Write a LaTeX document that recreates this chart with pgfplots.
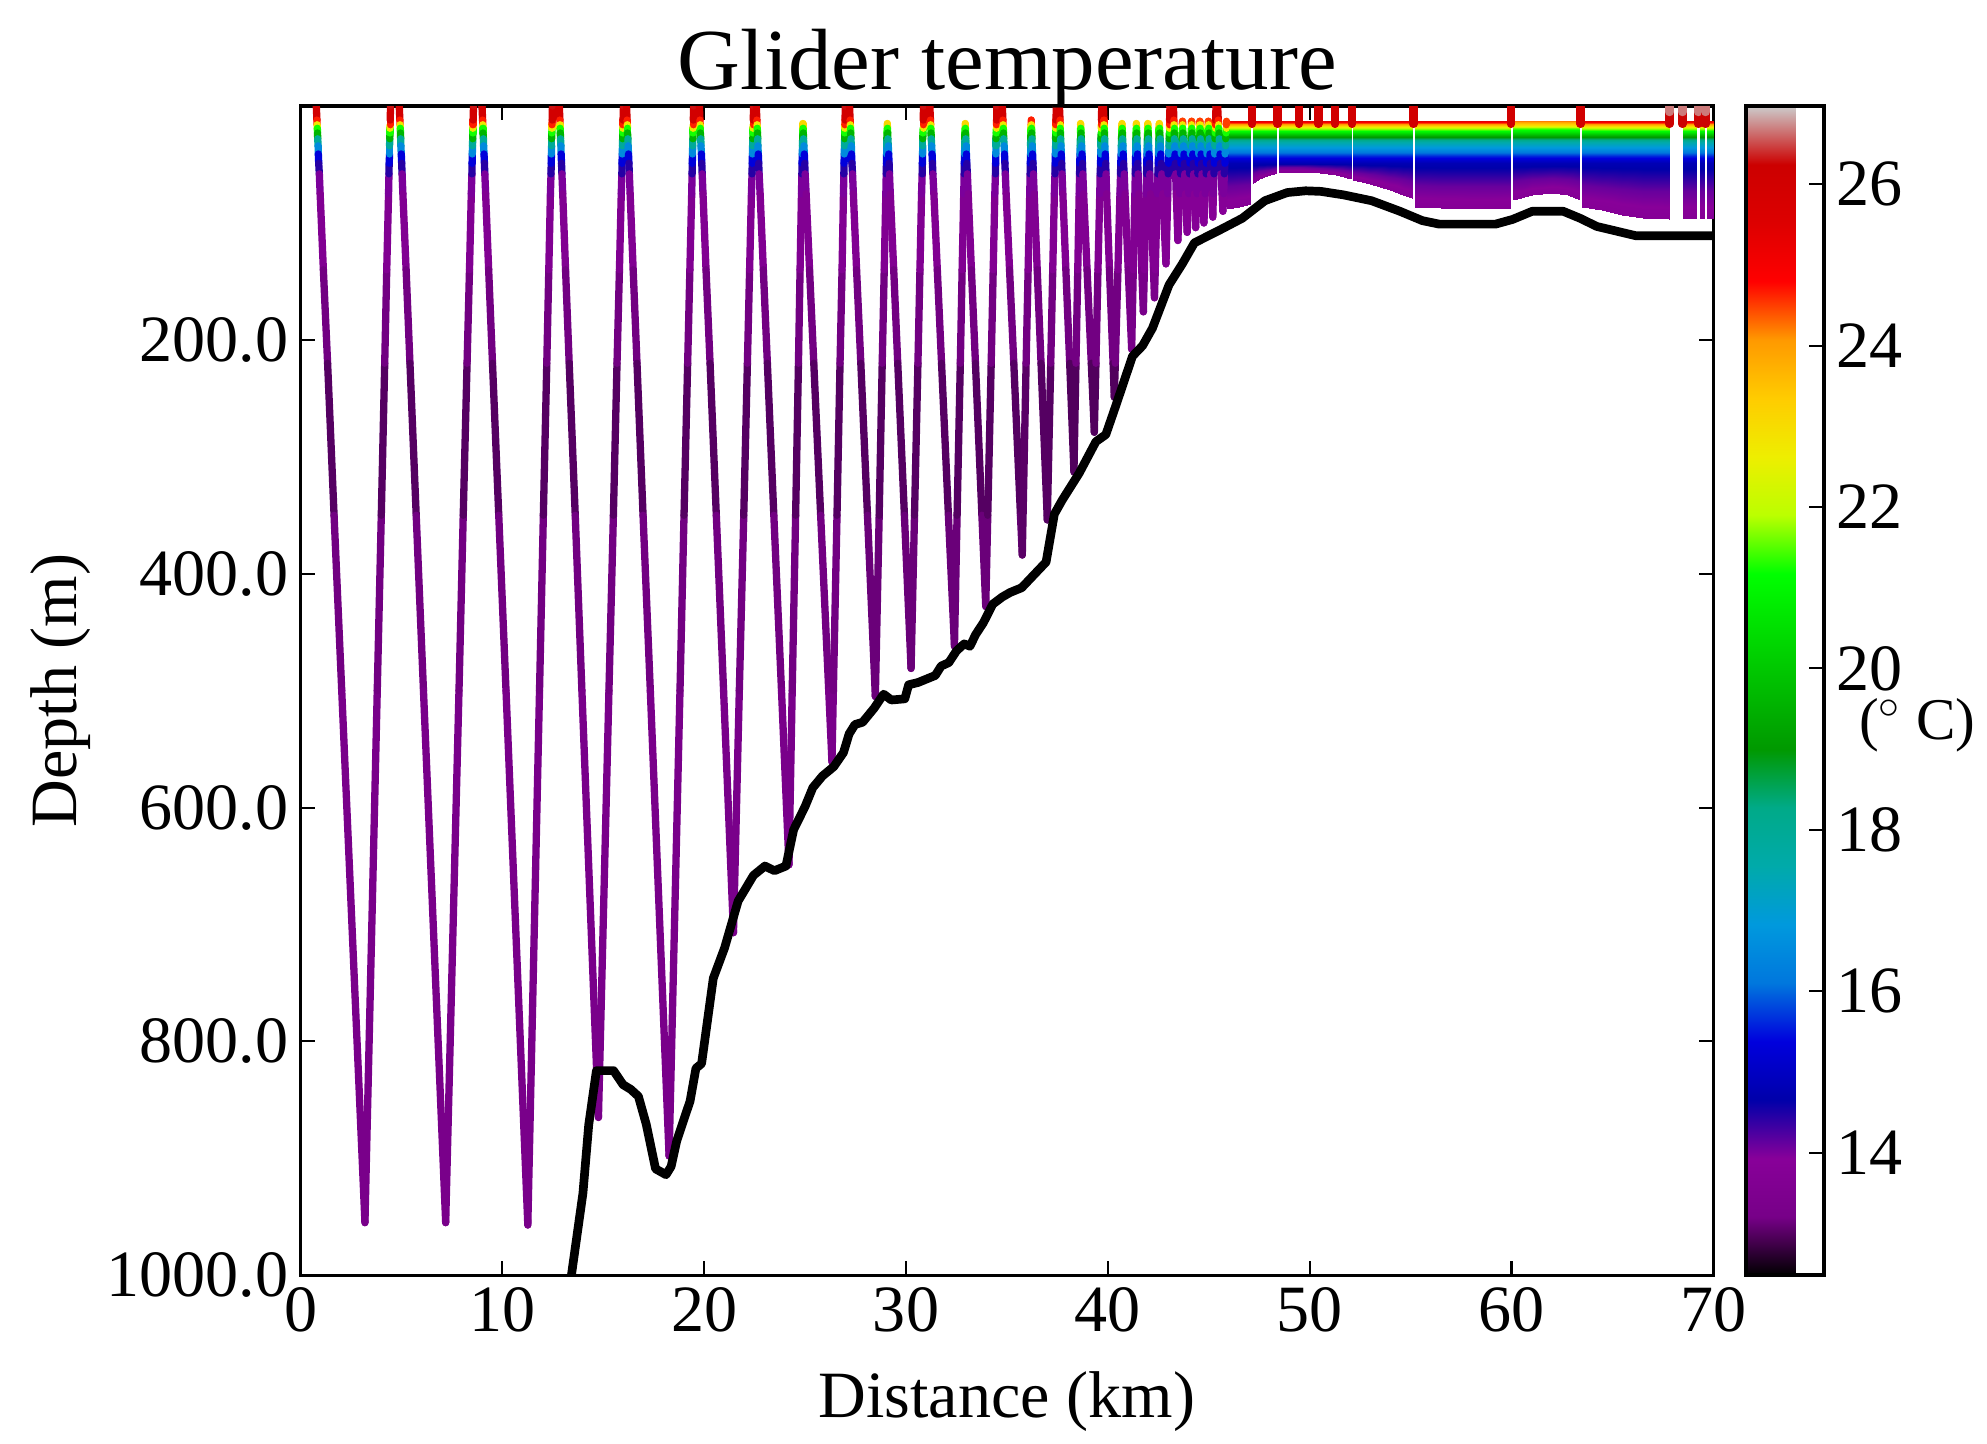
\documentclass[border=0pt]{standalone}
\usepackage{pgfplots}
\pgfplotsset{compat=1.18}
\usepackage{fontspec}
\setmainfont{Liberation Serif}

% nipy_spectral
\pgfplotsset{
  colormap={nipy}{rgb=(0,0,0) rgb=(0.4667,0,0.5333) rgb=(0.5333,0,0.6) rgb=(0,0,0.6667)
    rgb=(0,0,0.8667) rgb=(0,0.4667,0.8667) rgb=(0,0.6,0.8667) rgb=(0,0.6667,0.6667)
    rgb=(0,0.6667,0.5333) rgb=(0,0.6,0) rgb=(0,0.7333,0) rgb=(0,0.8667,0) rgb=(0,1,0)
    rgb=(0.7333,1,0) rgb=(0.9333,0.9333,0) rgb=(1,0.8,0) rgb=(1,0.6,0) rgb=(1,0,0)
    rgb=(0.8667,0,0) rgb=(0.8,0,0) rgb=(0.8,0.8,0.8)},
  /pgf/number format/assume math mode=true,
}

\begin{document}
\begin{tikzpicture}
\begin{axis}[
    name=main,
    width=14.27cm, height=11.81cm, scale only axis,
    xmin=0, xmax=70, ymin=0, ymax=1000, y dir=reverse,
    xtick={0,10,...,70}, ytick={200,400,...,1000},
    tick align=inside, tick pos=both,
    major tick length=0.145cm,
    every tick/.style={black, line width=0.6pt},
    axis line style={line width=0.9pt},
    tick label style={font=\fontsize{19}{22}\selectfont},
    scaled y ticks=false,
    yticklabel style={/pgf/number format/fixed, /pgf/number format/fixed zerofill,
      /pgf/number format/precision=1, /pgf/number format/1000 sep={}},
    title={Glider temperature},
    every axis title/.style={at={(axis description cs:0.5,1.014)}, anchor=base,
      font=\fontsize{25}{28}\selectfont},
    xlabel={Distance (km)},
    every axis x label/.style={at={(axis description cs:0.5,-0.122)}, anchor=base,
      font=\fontsize{19}{22}\selectfont},
    ylabel={Depth (m)},
    every axis y label/.style={at={(axis description cs:-0.170,0.5)}, rotate=90,
      anchor=center, font=\fontsize{19}{22}\selectfont},
    colormap name=nipy,
    point meta min=12.48, point meta max=26.97,
    colorbar,
    colorbar style={
      width=0.79cm,
      at={(parent axis.north east)}, anchor=north west, xshift=0.03cm,
      ytick={14,16,...,26},
      tick align=inside, ytick pos=right, yticklabel pos=right,
      major tick length=0.15cm,
      every tick/.style={black, line width=0.6pt},
      axis line style={line width=1pt},
      yticklabel style={font=\fontsize{19}{22}\selectfont},
      ylabel={($^{\circ}$ C)},
      every axis y label/.style={at={(axis description cs:2.19,0.47)}, anchor=center,
        font=\fontsize{17}{20}\selectfont},
    },
]

% dense yo-yo band east of 46 km, one block per run between gaps
\addplot[surf, shader=interp, mesh/cols=3, point meta=explicit] coordinates {
(45.90,13)[25.4] (46.50,13)[25.4] (47.08,13)[25.4]
(45.90,16)[23.6] (46.50,16)[23.6] (47.08,16)[23.6]
(45.90,19)[22.0] (46.50,19)[22.0] (47.08,19)[22.0]
(45.90,22)[20.8] (46.50,22)[20.8] (47.08,22)[20.8]
(45.90,26)[19.3] (46.50,26)[19.3] (47.08,26)[19.3]
(45.90,31)[17.6] (46.50,31)[17.6] (47.08,31)[17.6]
(45.90,37)[16.6] (46.50,37)[16.6] (47.08,37)[16.6]
(45.90,43)[15.6] (46.50,43)[15.6] (47.08,43)[15.6]
(45.90,49)[14.8] (46.50,49)[14.8] (47.08,49)[14.8]
(45.90,68.5)[14.1] (46.50,67.5)[14.1] (47.08,66.5)[14.1]
(45.90,88)[13.8] (46.50,86)[13.8] (47.08,84)[13.8]
};
\addplot[surf, shader=interp, mesh/cols=4, point meta=explicit] coordinates {
(47.20,13)[25.4] (47.50,13)[25.4] (47.90,13)[25.4] (48.37,13)[25.4]
(47.20,16)[23.6] (47.50,16)[23.6] (47.90,16)[23.6] (48.37,16)[23.6]
(47.20,19)[22.0] (47.50,19)[22.0] (47.90,19)[22.0] (48.37,19)[22.0]
(47.20,22)[20.8] (47.50,22)[20.8] (47.90,22)[20.8] (48.37,22)[20.8]
(47.20,26)[19.3] (47.50,26)[19.3] (47.90,26)[19.3] (48.37,26)[19.3]
(47.20,31)[17.6] (47.50,31)[17.6] (47.90,31)[17.6] (48.37,31)[17.6]
(47.20,37)[16.6] (47.50,37)[16.6] (47.90,37)[16.6] (48.37,37)[16.6]
(47.20,43)[15.6] (47.50,43)[15.6] (47.90,43)[15.6] (48.37,43)[15.6]
(47.20,49)[14.8] (47.50,49)[14.8] (47.90,49)[14.8] (48.37,49)[14.8]
(47.20,57.5)[14.1] (47.50,55.5)[14.1] (47.90,54.5)[14.1] (48.37,53)[14.1]
(47.20,66)[13.8] (47.50,62)[13.8] (47.90,60)[13.8] (48.37,57)[13.8]
};
\addplot[surf, shader=interp, mesh/cols=5, point meta=explicit] coordinates {
(48.47,13)[25.4] (49.50,13)[25.4] (50.50,13)[25.4] (51.30,13)[25.4] (52.05,13)[25.4]
(48.47,16)[23.6] (49.50,16)[23.6] (50.50,16)[23.6] (51.30,16)[23.6] (52.05,16)[23.6]
(48.47,19)[22.0] (49.50,19)[22.0] (50.50,19)[22.0] (51.30,19)[22.0] (52.05,19)[22.0]
(48.47,22)[20.8] (49.50,22)[20.8] (50.50,22)[20.8] (51.30,22)[20.8] (52.05,22)[20.8]
(48.47,26)[19.3] (49.50,26)[19.3] (50.50,26)[19.3] (51.30,26)[19.3] (52.05,26)[19.3]
(48.47,31)[17.6] (49.50,31)[17.6] (50.50,31)[17.6] (51.30,31)[17.6] (52.05,31)[17.6]
(48.47,37)[16.6] (49.50,37)[16.6] (50.50,37)[16.6] (51.30,37)[16.6] (52.05,37)[16.6]
(48.47,43)[15.6] (49.50,43)[15.6] (50.50,43)[15.6] (51.30,43)[15.6] (52.05,43)[15.6]
(48.47,49)[14.8] (49.50,49)[14.8] (50.50,49)[14.8] (51.30,49)[14.8] (52.05,49)[14.8]
(48.47,52.5)[14.1] (49.50,52.5)[14.1] (50.50,53)[14.1] (51.30,54)[14.1] (52.05,55.5)[14.1]
(48.47,56)[13.8] (49.50,56)[13.8] (50.50,57)[13.8] (51.30,59)[13.8] (52.05,62)[13.8]
};
\addplot[surf, shader=interp, mesh/cols=5, point meta=explicit] coordinates {
(52.15,13)[25.4] (53.00,13)[25.4] (54.00,13)[25.4] (54.60,13)[25.4] (55.08,13)[25.4]
(52.15,16)[23.6] (53.00,16)[23.6] (54.00,16)[23.6] (54.60,16)[23.6] (55.08,16)[23.6]
(52.15,19)[22.0] (53.00,19)[22.0] (54.00,19)[22.0] (54.60,19)[22.0] (55.08,19)[22.0]
(52.15,22)[20.8] (53.00,22)[20.8] (54.00,22)[20.8] (54.60,22)[20.8] (55.08,22)[20.8]
(52.15,26)[19.3] (53.00,26)[19.3] (54.00,26)[19.3] (54.60,26)[19.3] (55.08,26)[19.3]
(52.15,31)[17.6] (53.00,31)[17.6] (54.00,31)[17.6] (54.60,31)[17.6] (55.08,31)[17.6]
(52.15,37)[16.6] (53.00,37)[16.6] (54.00,37)[16.6] (54.60,37)[16.6] (55.08,37)[16.6]
(52.15,43)[15.6] (53.00,43)[15.6] (54.00,43)[15.6] (54.60,43)[15.6] (55.08,43)[15.6]
(52.15,49)[14.8] (53.00,49)[14.8] (54.00,49)[14.8] (54.60,49)[14.8] (55.08,49)[14.8]
(52.15,56)[14.1] (53.00,58)[14.1] (54.00,60.5)[14.1] (54.60,62.5)[14.1] (55.08,64)[14.1]
(52.15,63)[13.8] (53.00,67)[13.8] (54.00,72)[13.8] (54.60,76)[13.8] (55.08,79)[13.8]
};
\addplot[surf, shader=interp, mesh/cols=4, point meta=explicit] coordinates {
(55.20,13)[25.4] (56.50,13)[25.4] (58.00,13)[25.4] (59.95,13)[25.4]
(55.20,16)[23.6] (56.50,16)[23.6] (58.00,16)[23.6] (59.95,16)[23.6]
(55.20,19)[22.0] (56.50,19)[22.0] (58.00,19)[22.0] (59.95,19)[22.0]
(55.20,22)[20.8] (56.50,22)[20.8] (58.00,22)[20.8] (59.95,22)[20.8]
(55.20,26)[19.3] (56.50,26)[19.3] (58.00,26)[19.3] (59.95,26)[19.3]
(55.20,31)[17.6] (56.50,31)[17.6] (58.00,31)[17.6] (59.95,31)[17.6]
(55.20,37)[16.6] (56.50,37)[16.6] (58.00,37)[16.6] (59.95,37)[16.6]
(55.20,43)[15.6] (56.50,43)[15.6] (58.00,43)[15.6] (59.95,43)[15.6]
(55.20,49)[14.8] (56.50,49)[14.8] (58.00,49)[14.8] (59.95,49)[14.8]
(55.20,67.5)[14.1] (56.50,68)[14.1] (58.00,68.5)[14.1] (59.95,68)[14.1]
(55.20,86)[13.8] (56.50,87)[13.8] (58.00,88)[13.8] (59.95,87)[13.8]
};
\addplot[surf, shader=interp, mesh/cols=5, point meta=explicit] coordinates {
(60.07,13)[24.2] (61.00,13)[24.2] (62.00,13)[24.2] (62.80,13)[24.2] (63.38,13)[24.2]
(60.07,16)[23.0] (61.00,16)[23.0] (62.00,16)[23.0] (62.80,16)[23.0] (63.38,16)[23.0]
(60.07,19)[21.6] (61.00,19)[21.6] (62.00,19)[21.6] (62.80,19)[21.6] (63.38,19)[21.6]
(60.07,22)[20.6] (61.00,22)[20.6] (62.00,22)[20.6] (62.80,22)[20.6] (63.38,22)[20.6]
(60.07,26)[19.3] (61.00,26)[19.3] (62.00,26)[19.3] (62.80,26)[19.3] (63.38,26)[19.3]
(60.07,31)[17.6] (61.00,31)[17.6] (62.00,31)[17.6] (62.80,31)[17.6] (63.38,31)[17.6]
(60.07,37)[16.6] (61.00,37)[16.6] (62.00,37)[16.6] (62.80,37)[16.6] (63.38,37)[16.6]
(60.07,43)[15.6] (61.00,43)[15.6] (62.00,43)[15.6] (62.80,43)[15.6] (63.38,43)[15.6]
(60.07,49)[14.8] (61.00,49)[14.8] (62.00,49)[14.8] (62.80,49)[14.8] (63.38,49)[14.8]
(60.07,64.5)[14.1] (61.00,62.5)[14.1] (62.00,61.5)[14.1] (62.80,62.5)[14.1] (63.38,64.5)[14.1]
(60.07,80)[13.8] (61.00,76)[13.8] (62.00,74)[13.8] (62.80,76)[13.8] (63.38,80)[13.8]
};
\addplot[surf, shader=interp, mesh/cols=5, point meta=explicit] coordinates {
(63.48,13)[25.4] (64.50,13)[25.4] (65.50,13)[25.4] (66.50,13)[25.4] (67.82,13)[25.4]
(63.48,16)[23.6] (64.50,16)[23.6] (65.50,16)[23.6] (66.50,16)[23.6] (67.82,16)[23.6]
(63.48,19)[22.0] (64.50,19)[22.0] (65.50,19)[22.0] (66.50,19)[22.0] (67.82,19)[22.0]
(63.48,22)[20.8] (64.50,22)[20.8] (65.50,22)[20.8] (66.50,22)[20.8] (67.82,22)[20.8]
(63.48,26)[19.3] (64.50,26)[19.3] (65.50,26)[19.3] (66.50,26)[19.3] (67.82,26)[19.3]
(63.48,31)[17.6] (64.50,31)[17.6] (65.50,31)[17.6] (66.50,31)[17.6] (67.82,31)[17.6]
(63.48,37)[16.6] (64.50,37)[16.6] (65.50,37)[16.6] (66.50,37)[16.6] (67.82,37)[16.6]
(63.48,43)[15.6] (64.50,43)[15.6] (65.50,43)[15.6] (66.50,43)[15.6] (67.82,43)[15.6]
(63.48,49)[14.8] (64.50,49)[14.8] (65.50,49)[14.8] (66.50,49)[14.8] (67.82,49)[14.8]
(63.48,67.5)[14.1] (64.50,69)[14.1] (65.50,71)[14.1] (66.50,72.5)[14.1] (67.82,73)[14.1]
(63.48,86)[13.8] (64.50,89)[13.8] (65.50,93)[13.8] (66.50,96)[13.8] (67.82,97)[13.8]
};
\addplot[surf, shader=interp, mesh/cols=2, point meta=explicit] coordinates {
(68.48,13)[25.4] (69.18,13)[25.4]
(68.48,16)[23.6] (69.18,16)[23.6]
(68.48,19)[22.0] (69.18,19)[22.0]
(68.48,22)[20.8] (69.18,22)[20.8]
(68.48,26)[19.3] (69.18,26)[19.3]
(68.48,31)[17.6] (69.18,31)[17.6]
(68.48,37)[16.6] (69.18,37)[16.6]
(68.48,43)[15.6] (69.18,43)[15.6]
(68.48,49)[14.8] (69.18,49)[14.8]
(68.48,72.5)[14.1] (69.18,72.5)[14.1]
(68.48,96)[13.8] (69.18,96)[13.8]
};
\addplot[surf, shader=interp, mesh/cols=2, point meta=explicit] coordinates {
(69.32,13)[25.4] (69.55,13)[25.4]
(69.32,16)[23.6] (69.55,16)[23.6]
(69.32,19)[22.0] (69.55,19)[22.0]
(69.32,22)[20.8] (69.55,22)[20.8]
(69.32,26)[19.3] (69.55,26)[19.3]
(69.32,31)[17.6] (69.55,31)[17.6]
(69.32,37)[16.6] (69.55,37)[16.6]
(69.32,43)[15.6] (69.55,43)[15.6]
(69.32,49)[14.8] (69.55,49)[14.8]
(69.32,72.5)[14.1] (69.55,72.5)[14.1]
(69.32,96)[13.8] (69.55,96)[13.8]
};
\addplot[surf, shader=interp, mesh/cols=2, point meta=explicit] coordinates {
(69.68,13)[25.4] (70.00,13)[25.4]
(69.68,16)[23.6] (70.00,16)[23.6]
(69.68,19)[22.0] (70.00,19)[22.0]
(69.68,22)[20.8] (70.00,22)[20.8]
(69.68,26)[19.3] (70.00,26)[19.3]
(69.68,31)[17.6] (70.00,31)[17.6]
(69.68,37)[16.6] (70.00,37)[16.6]
(69.68,43)[15.6] (70.00,43)[15.6]
(69.68,49)[14.8] (70.00,49)[14.8]
(69.68,72.5)[14.1] (70.00,72.5)[14.1]
(69.68,96)[13.8] (70.00,96)[13.8]
};

% glider track (x km, depth m) [temperature]
\addplot[mesh, point meta=explicit, line width=2.1pt, line cap=round, line join=round] coordinates {
(0.78,-10)[26.3] (0.78,0)[26.3] (0.81,12)[25.7] (0.82,16)[23.6] (0.83,19)[22.0] (0.84,23)[20.5] (0.85,28)[18.7] (0.87,34)[17.1] (0.88,41)[15.9] (0.90,49)[14.8] (0.93,58)[14.1] (0.97,75)[13.9] (1.13,140)[13.4] (1.34,220)[12.95] (1.66,350)[13.05] (2.04,500)[13.3] (3.19,955)[13.3]
(3.80,500)[13.3] (4.00,350)[13.05] (4.17,220)[12.95] (4.27,140)[13.4] (4.36,75)[13.9] (4.38,58)[14.1] (4.39,49)[14.8] (4.41,41)[15.9] (4.41,34)[17.1] (4.42,28)[18.7] (4.43,23)[20.5] (4.43,19)[22.0] (4.44,16)[23.6] (4.44,12)[25.7] (4.46,0)[26.3] (4.46,-10)[26.3]
(4.89,-10)[26.3] (4.89,0)[26.3] (4.92,12)[25.7] (4.93,16)[23.6] (4.94,19)[22.0] (4.95,23)[20.5] (4.96,28)[18.7] (4.97,34)[17.1] (4.99,41)[15.9] (5.01,49)[14.8] (5.03,58)[14.1] (5.07,75)[13.9] (5.23,140)[13.4] (5.42,220)[12.95] (5.73,350)[13.05] (6.09,500)[13.3] (7.19,955)[13.3]
(7.85,500)[13.3] (8.06,350)[13.05] (8.25,220)[12.95] (8.37,140)[13.4] (8.46,75)[13.9] (8.49,58)[14.1] (8.50,49)[14.8] (8.51,41)[15.9] (8.52,34)[17.1] (8.53,28)[18.7] (8.54,23)[20.5] (8.54,19)[22.0] (8.55,16)[23.6] (8.55,12)[25.7] (8.57,0)[26.3] (8.57,-10)[26.3]
(8.99,-10)[26.3] (8.99,0)[26.3] (9.02,12)[25.7] (9.03,16)[23.6] (9.04,19)[22.0] (9.04,23)[20.5] (9.06,28)[18.7] (9.07,34)[17.1] (9.09,41)[15.9] (9.11,49)[14.8] (9.13,58)[14.1] (9.17,75)[13.9] (9.32,140)[13.4] (9.51,220)[12.95] (9.82,350)[13.05] (10.18,500)[13.3] (11.26,957)[13.3]
(11.84,500)[13.3] (12.03,350)[13.05] (12.20,220)[12.95] (12.30,140)[13.4] (12.38,75)[13.9] (12.41,58)[14.1] (12.42,49)[14.8] (12.43,41)[15.9] (12.44,34)[17.1] (12.44,28)[18.7] (12.45,23)[20.5] (12.46,19)[22.0] (12.46,16)[23.6] (12.47,12)[25.7] (12.48,0)[26.3] (12.48,-10)[26.3]
(12.82,-10)[26.3] (12.82,0)[26.3] (12.85,12)[25.7] (12.86,16)[23.6] (12.86,19)[22.0] (12.87,23)[20.5] (12.88,28)[18.7] (12.90,34)[17.1] (12.91,41)[15.9] (12.93,49)[14.8] (12.95,58)[14.1] (12.99,75)[13.9] (13.13,140)[13.4] (13.31,220)[12.95] (13.61,350)[13.05] (13.94,500)[13.3] (14.76,865)[13.3]
(15.28,500)[13.3] (15.50,350)[13.05] (15.68,220)[12.95] (15.80,140)[13.4] (15.89,75)[13.9] (15.92,58)[14.1] (15.93,49)[14.8] (15.94,41)[15.9] (15.95,34)[17.1] (15.96,28)[18.7] (15.97,23)[20.5] (15.97,19)[22.0] (15.98,16)[23.6] (15.98,12)[25.7] (16.00,0)[26.3] (16.00,-10)[26.3]
(16.15,-10)[26.3] (16.15,0)[26.3] (16.18,12)[25.7] (16.19,16)[23.6] (16.20,19)[22.0] (16.20,23)[20.5] (16.22,28)[18.7] (16.23,34)[17.1] (16.25,41)[15.9] (16.27,49)[14.8] (16.29,58)[14.1] (16.33,75)[13.9] (16.48,140)[13.4] (16.67,220)[12.95] (16.97,350)[13.05] (17.33,500)[13.3] (18.26,898)[13.3]
(18.80,500)[13.3] (19.00,350)[13.05] (19.18,220)[12.95] (19.29,140)[13.4] (19.38,75)[13.9] (19.40,58)[14.1] (19.41,49)[14.8] (19.42,41)[15.9] (19.43,34)[17.1] (19.44,28)[18.7] (19.45,23)[20.5] (19.45,19)[22.0] (19.46,16)[23.6] (19.46,12)[25.7] (19.48,0)[26.3] (19.48,-10)[26.3]
(19.76,-10)[26.3] (19.76,0)[26.3] (19.79,12)[25.7] (19.80,16)[23.6] (19.81,19)[22.0] (19.81,23)[20.5] (19.83,28)[18.7] (19.84,34)[17.1] (19.86,41)[15.9] (19.88,49)[14.8] (19.90,58)[14.1] (19.94,75)[13.9] (20.09,140)[13.4] (20.29,220)[12.95] (20.60,350)[13.05] (20.96,500)[13.3] (21.45,707)[13.3]
(21.74,500)[13.3] (21.96,350)[13.05] (22.14,220)[12.95] (22.25,140)[13.4] (22.34,75)[13.9] (22.37,58)[14.1] (22.38,49)[14.8] (22.39,41)[15.9] (22.40,34)[17.1] (22.41,28)[18.7] (22.42,23)[20.5] (22.42,19)[22.0] (22.43,16)[23.6] (22.43,12)[25.7] (22.45,0)[26.3] (22.45,-10)[26.3]
(22.58,-10)[26.3] (22.58,0)[26.3] (22.61,12)[25.7] (22.62,16)[23.6] (22.63,19)[22.0] (22.64,23)[20.5] (22.65,28)[18.7] (22.66,34)[17.1] (22.68,41)[15.9] (22.70,49)[14.8] (22.72,58)[14.1] (22.77,75)[13.9] (22.93,140)[13.4] (23.13,220)[12.95] (23.45,350)[13.05] (23.83,500)[13.3] (24.20,649)[13.3]
(24.36,500)[13.3] (24.53,350)[13.05] (24.67,220)[12.95] (24.75,140)[13.4] (24.82,75)[13.9] (24.84,58)[14.1] (24.85,49)[14.8] (24.86,41)[15.9] (24.87,34)[17.1] (24.88,28)[18.7] (24.88,23)[20.5] (24.89,19)[22.0] (24.89,15)[24.3]
(24.90,19)[22.0] (24.91,23)[20.5] (24.92,28)[18.7] (24.94,34)[17.1] (24.96,41)[15.9] (24.98,49)[14.8] (25.00,58)[14.1] (25.05,75)[13.9] (25.22,140)[13.4] (25.43,220)[12.95] (25.77,350)[13.05] (26.17,500)[13.3] (26.33,561)[13.3]
(26.40,500)[13.3] (26.58,350)[13.05] (26.73,220)[12.95] (26.83,140)[13.4] (26.90,75)[13.9] (26.92,58)[14.1] (26.93,49)[14.8] (26.94,41)[15.9] (26.95,34)[17.1] (26.96,28)[18.7] (26.96,23)[20.5] (26.97,19)[22.0] (26.97,16)[23.6] (26.98,12)[25.7] (26.99,0)[26.3] (26.99,-10)[26.3]
(27.20,-10)[26.3] (27.20,0)[26.3] (27.23,12)[25.7] (27.24,16)[23.6] (27.25,19)[22.0] (27.26,23)[20.5] (27.27,28)[18.7] (27.29,34)[17.1] (27.30,41)[15.9] (27.32,49)[14.8] (27.35,58)[14.1] (27.39,75)[13.9] (27.55,140)[13.4] (27.76,220)[12.95] (28.09,350)[13.05] (28.48,505)[13.2]
(28.67,350)[13.05] (28.82,220)[12.95] (28.92,140)[13.4] (29.00,75)[13.9] (29.02,58)[14.1] (29.03,49)[14.8] (29.04,41)[15.9] (29.05,34)[17.1] (29.05,28)[18.7] (29.06,23)[20.5] (29.07,19)[22.0] (29.07,15)[24.3]
(29.08,19)[22.0] (29.09,23)[20.5] (29.10,28)[18.7] (29.12,34)[17.1] (29.14,41)[15.9] (29.16,49)[14.8] (29.18,58)[14.1] (29.22,75)[13.9] (29.39,140)[13.4] (29.59,220)[12.95] (29.92,350)[13.05] (30.25,481)[13.2]
(30.42,350)[13.05] (30.59,220)[12.95] (30.69,140)[13.4] (30.77,75)[13.9] (30.80,58)[14.1] (30.81,49)[14.8] (30.82,41)[15.9] (30.83,34)[17.1] (30.83,28)[18.7] (30.84,23)[20.5] (30.85,19)[22.0] (30.85,16)[23.6] (30.85,12)[25.7] (30.87,0)[26.3] (30.87,-10)[26.3]
(31.18,-10)[26.3] (31.18,0)[26.3] (31.21,12)[25.7] (31.22,16)[23.6] (31.23,19)[22.0] (31.24,23)[20.5] (31.25,28)[18.7] (31.27,34)[17.1] (31.29,41)[15.9] (31.31,49)[14.8] (31.33,58)[14.1] (31.38,75)[13.9] (31.55,140)[13.4] (31.76,220)[12.95] (32.10,350)[13.05] (32.40,462)[13.2]
(32.53,350)[13.05] (32.69,220)[12.95] (32.78,140)[13.4] (32.86,75)[13.9] (32.88,58)[14.1] (32.89,49)[14.8] (32.90,41)[15.9] (32.91,34)[17.1] (32.92,28)[18.7] (32.92,23)[20.5] (32.93,19)[22.0] (32.93,15)[24.3]
(32.94,19)[22.0] (32.95,23)[20.5] (32.96,28)[18.7] (32.98,34)[17.1] (32.99,41)[15.9] (33.01,49)[14.8] (33.04,58)[14.1] (33.08,75)[13.9] (33.24,140)[13.4] (33.44,220)[12.95] (33.76,350)[13.05] (33.95,428)[13.2]
(34.05,350)[13.05] (34.22,220)[12.95] (34.32,140)[13.4] (34.40,75)[13.9] (34.43,58)[14.1] (34.44,49)[14.8] (34.45,41)[15.9] (34.46,34)[17.1] (34.46,28)[18.7] (34.47,23)[20.5] (34.48,19)[22.0] (34.48,16)[23.6] (34.49,12)[25.7] (34.50,0)[26.3] (34.50,-10)[26.3]
(34.77,-10)[26.3] (34.77,0)[26.3] (34.80,12)[25.7] (34.81,16)[23.6] (34.82,19)[22.0] (34.83,23)[20.5] (34.84,28)[18.7] (34.86,34)[17.1] (34.88,41)[15.9] (34.90,49)[14.8] (34.92,58)[14.1] (34.96,75)[13.9] (35.13,140)[13.4] (35.34,220)[12.95] (35.67,350)[13.05] (35.76,384)[13.1]
(35.95,220)[12.95] (36.05,140)[13.4] (36.13,75)[13.9] (36.15,58)[14.1] (36.16,49)[14.8] (36.17,41)[15.9] (36.17,34)[17.1] (36.18,28)[18.7] (36.19,23)[20.5] (36.19,19)[22.0] (36.20,16)[23.6] (36.20,12)[25.7]
(36.21,16)[23.6] (36.22,19)[22.0] (36.23,23)[20.5] (36.24,28)[18.7] (36.25,34)[17.1] (36.27,41)[15.9] (36.29,49)[14.8] (36.31,58)[14.1] (36.35,75)[13.9] (36.50,140)[13.4] (36.69,220)[12.95] (37.00,354)[13.05]
(37.17,220)[12.95] (37.27,140)[13.4] (37.35,75)[13.9] (37.38,58)[14.1] (37.39,49)[14.8] (37.40,41)[15.9] (37.41,34)[17.1] (37.41,28)[18.7] (37.42,23)[20.5] (37.43,19)[22.0] (37.43,16)[23.6] (37.43,12)[25.7] (37.45,0)[26.3] (37.45,-10)[26.3]
(37.60,-10)[26.3] (37.60,0)[26.3] (37.63,12)[25.7] (37.64,16)[23.6] (37.64,19)[22.0] (37.65,23)[20.5] (37.66,28)[18.7] (37.68,34)[17.1] (37.69,41)[15.9] (37.71,49)[14.8] (37.73,58)[14.1] (37.77,75)[13.9] (37.92,140)[13.4] (38.11,220)[12.95] (38.32,313)[13.0]
(38.42,220)[12.95] (38.51,140)[13.4] (38.58,75)[13.9] (38.60,58)[14.1] (38.61,49)[14.8] (38.62,41)[15.9] (38.63,34)[17.1] (38.64,28)[18.7] (38.64,23)[20.5] (38.65,19)[22.0] (38.65,15)[24.3]
(38.66,19)[22.0] (38.67,23)[20.5] (38.68,28)[18.7] (38.70,34)[17.1] (38.72,41)[15.9] (38.74,49)[14.8] (38.76,58)[14.1] (38.80,75)[13.9] (38.97,140)[13.4] (39.18,220)[12.95] (39.33,279)[13.0]
(39.41,220)[12.95] (39.51,140)[13.4] (39.60,75)[13.9] (39.62,58)[14.1] (39.64,49)[14.8] (39.65,41)[15.9] (39.66,34)[17.1] (39.66,28)[18.7] (39.67,23)[20.5] (39.67,19)[22.0] (39.68,16)[23.6] (39.68,12)[25.7] (39.70,0)[26.3] (39.70,-10)[26.3]
(39.78,-10)[26.3] (39.78,0)[26.3] (39.81,12)[25.7] (39.81,16)[23.6] (39.82,19)[22.0] (39.83,23)[20.5] (39.84,28)[18.7] (39.85,34)[17.1] (39.87,41)[15.9] (39.89,49)[14.8] (39.91,58)[14.1] (39.94,75)[13.9] (40.08,140)[13.4] (40.26,220)[12.95] (40.32,249)[13.0]
(40.37,220)[12.95] (40.50,140)[13.4] (40.60,75)[13.9] (40.63,58)[14.1] (40.64,49)[14.8] (40.66,41)[15.9] (40.67,34)[17.1] (40.68,28)[18.7] (40.69,23)[20.5] (40.69,19)[22.0] (40.70,15)[24.3]
(40.71,19)[22.0] (40.72,23)[20.5] (40.73,28)[18.7] (40.75,34)[17.1] (40.76,41)[15.9] (40.78,49)[14.8] (40.81,58)[14.1] (40.85,75)[13.9] (41.01,140)[13.4] (41.18,208)[13.1]
(41.26,140)[13.4] (41.34,75)[13.9] (41.36,58)[14.1] (41.37,49)[14.8] (41.38,41)[15.9] (41.39,34)[17.1] (41.39,28)[18.7] (41.40,23)[20.5] (41.41,19)[22.0] (41.41,15)[24.3]
(41.42,19)[22.0] (41.43,23)[20.5] (41.44,28)[18.7] (41.45,34)[17.1] (41.47,41)[15.9] (41.48,49)[14.8] (41.50,58)[14.1] (41.54,75)[13.9] (41.68,140)[13.4] (41.76,176)[13.2]
(41.81,140)[13.4] (41.90,75)[13.9] (41.92,58)[14.1] (41.93,49)[14.8] (41.94,41)[15.9] (41.95,34)[17.1] (41.96,28)[18.7] (41.97,23)[20.5] (41.97,19)[22.0] (41.98,15)[24.3]
(41.99,19)[22.0] (42.00,23)[20.5] (42.01,28)[18.7] (42.02,34)[17.1] (42.04,41)[15.9] (42.06,49)[14.8] (42.08,58)[14.1] (42.11,75)[13.9] (42.26,140)[13.4] (42.31,164)[13.3]
(42.35,140)[13.4] (42.45,75)[13.9] (42.48,58)[14.1] (42.50,49)[14.8] (42.51,41)[15.9] (42.52,34)[17.1] (42.53,28)[18.7] (42.54,23)[20.5] (42.54,19)[22.0] (42.55,15)[24.3]
(42.56,19)[22.0] (42.57,23)[20.5] (42.59,28)[18.7] (42.60,34)[17.1] (42.62,41)[15.9] (42.64,49)[14.8] (42.67,58)[14.1] (42.72,75)[13.9] (42.88,135)[13.5]
(42.97,75)[13.9] (42.99,58)[14.1] (43.01,49)[14.8] (43.02,41)[15.9] (43.03,34)[17.1] (43.04,28)[18.7] (43.05,23)[20.5] (43.05,19)[22.0] (43.06,16)[23.6] (43.06,12)[25.7] (43.08,0)[26.3] (43.08,-10)[26.3]
(43.25,-10)[26.3] (43.25,0)[26.3] (43.27,12)[25.7] (43.28,16)[23.6] (43.29,19)[22.0] (43.29,23)[20.5] (43.30,28)[18.7] (43.32,34)[17.1] (43.33,41)[15.9] (43.34,49)[14.8] (43.36,58)[14.1] (43.39,75)[13.9] (43.47,115)[13.7]
(43.56,75)[13.9] (43.60,58)[14.1] (43.62,49)[14.8] (43.64,41)[15.9] (43.65,34)[17.1] (43.67,28)[18.7] (43.68,23)[20.5] (43.69,19)[22.0] (43.69,16)[23.6] (43.70,13)[25.4]
(43.71,16)[23.6] (43.71,19)[22.0] (43.72,23)[20.5] (43.74,28)[18.7] (43.75,34)[17.1] (43.77,41)[15.9] (43.79,49)[14.8] (43.81,58)[14.1] (43.85,75)[13.9] (43.93,108)[13.7]
(44.01,75)[13.9] (44.05,58)[14.1] (44.07,49)[14.8] (44.09,41)[15.9] (44.10,34)[17.1] (44.12,28)[18.7] (44.13,23)[20.5] (44.14,19)[22.0] (44.14,16)[23.6] (44.15,13)[25.4]
(44.16,16)[23.6] (44.16,19)[22.0] (44.17,23)[20.5] (44.18,28)[18.7] (44.20,34)[17.1] (44.21,41)[15.9] (44.23,49)[14.8] (44.25,58)[14.1] (44.29,75)[13.9] (44.35,104)[13.7]
(44.42,75)[13.9] (44.46,58)[14.1] (44.48,49)[14.8] (44.50,41)[15.9] (44.51,34)[17.1] (44.53,28)[18.7] (44.54,23)[20.5] (44.55,19)[22.0] (44.55,16)[23.6] (44.56,13)[25.4]
(44.57,16)[23.6] (44.57,19)[22.0] (44.58,23)[20.5] (44.59,28)[18.7] (44.61,34)[17.1] (44.62,41)[15.9] (44.64,49)[14.8] (44.66,58)[14.1] (44.70,75)[13.9] (44.76,100)[13.8]
(44.82,75)[13.9] (44.87,58)[14.1] (44.89,49)[14.8] (44.91,41)[15.9] (44.93,34)[17.1] (44.94,28)[18.7] (44.95,23)[20.5] (44.96,19)[22.0] (44.97,16)[23.6] (44.98,13)[25.4]
(44.99,16)[23.6] (45.00,19)[22.0] (45.01,23)[20.5] (45.02,28)[18.7] (45.04,34)[17.1] (45.06,41)[15.9] (45.08,49)[14.8] (45.10,58)[14.1] (45.15,75)[13.9] (45.20,95)[13.8]
(45.23,75)[13.9] (45.26,58)[14.1] (45.28,49)[14.8] (45.29,41)[15.9] (45.30,34)[17.1] (45.31,28)[18.7] (45.32,23)[20.5] (45.33,19)[22.0] (45.33,16)[23.6] (45.34,12)[25.7] (45.36,0)[26.3] (45.36,-10)[26.3]
(45.44,-10)[26.3] (45.44,0)[26.3] (45.47,12)[25.7] (45.49,16)[23.6] (45.49,19)[22.0] (45.51,23)[20.5] (45.52,28)[18.7] (45.54,34)[17.1] (45.56,41)[15.9] (45.58,49)[14.8] (45.61,58)[14.1] (45.66,75)[13.9] (45.70,90)[13.8]
(45.74,75)[13.9] (45.77,58)[14.1] (45.80,49)[14.8] (45.81,41)[15.9] (45.83,34)[17.1] (45.84,28)[18.7] (45.86,23)[20.5] (45.87,19)[22.0] (45.87,16)[23.6] (45.88,13)[25.4]
};

% surfacings within the dense band
\addplot[mesh, point meta=explicit, line width=2.5pt, line cap=round] coordinates {
(47.14,-10)[26.3] (47.14,15)[25.8] (47.14,-10)[26.3]
(48.42,-10)[26.3] (48.42,15)[25.8] (48.42,-10)[26.3]
(49.47,-10)[26.3] (49.47,15)[25.8] (49.47,-10)[26.3]
(50.43,-10)[26.3] (50.43,15)[25.8] (50.43,-10)[26.3]
(51.26,-10)[26.3] (51.26,15)[25.8] (51.26,-10)[26.3]
(52.10,-10)[26.3] (52.10,15)[25.8] (52.10,-10)[26.3]
(55.14,-10)[26.3] (55.14,15)[25.8] (55.14,-10)[26.3]
(59.98,-10)[26.3] (59.98,15)[25.8] (59.98,-10)[26.3]
(63.43,-10)[26.3] (63.43,15)[25.8] (63.43,-10)[26.3]
(67.83,-10)[26.75] (67.83,5)[26.6] (67.83,15)[25.9] (67.83,5)[26.6] (67.83,-10)[26.75]
(68.47,-10)[26.75] (68.47,5)[26.6] (68.47,15)[25.9] (68.47,5)[26.6] (68.47,-10)[26.75]
(69.25,-10)[26.75] (69.25,5)[26.6] (69.25,15)[25.9] (69.25,5)[26.6] (69.25,-10)[26.75]
(69.62,-10)[26.75] (69.62,5)[26.6] (69.62,15)[25.9] (69.62,5)[26.6] (69.62,-10)[26.75]
};

% bathymetry
\addplot[black, line width=2.5pt, line join=round] coordinates {
(13.25,1021) (13.42,1000) (13.99,930) (14.28,871) (14.66,825) (15.51,825) (15.98,837)
(16.36,841) (16.74,847) (17.13,871) (17.59,909) (18.11,914) (18.36,907) (18.64,885)
(19.30,851) (19.59,823) (19.87,819) (20.45,746) (21.01,720) (21.68,680) (22.44,658)
(23.01,650) (23.48,654) (24.05,650) (24.43,619) (25.00,599) (25.38,583) (25.86,573)
(26.42,565) (26.90,553) (27.18,537) (27.47,529) (27.85,527) (28.42,515) (28.89,503)
(29.27,508) (29.94,507) (30.13,495) (30.60,493) (31.45,487) (31.74,479) (32.12,476)
(32.50,466) (32.88,460) (33.17,462) (33.45,452) (33.83,442) (34.30,426) (34.76,420)
(35.16,416) (35.73,412) (36.39,400) (36.94,390) (37.35,349) (37.74,337) (38.58,314)
(39.41,287) (39.90,281) (40.40,256) (41.22,214) (41.72,205) (42.21,190) (43.03,153)
(43.69,135) (44.29,117) (45.55,106) (46.66,96) (47.78,81) (48.89,74) (49.80,72.5)
(50.56,73) (51.68,76) (53.07,81) (54.47,90) (55.58,98) (56.42,101) (59.21,101)
(60.05,97) (61.03,90) (62.56,90) (63.40,96) (64.23,103) (66.18,111) (70.00,111)
};
\end{axis}
\path ([xshift=-3.036cm,yshift=-1.607cm]main.south west) rectangle ([xshift=2.691cm,yshift=1.071cm]main.north east);
\end{tikzpicture}
\end{document}
